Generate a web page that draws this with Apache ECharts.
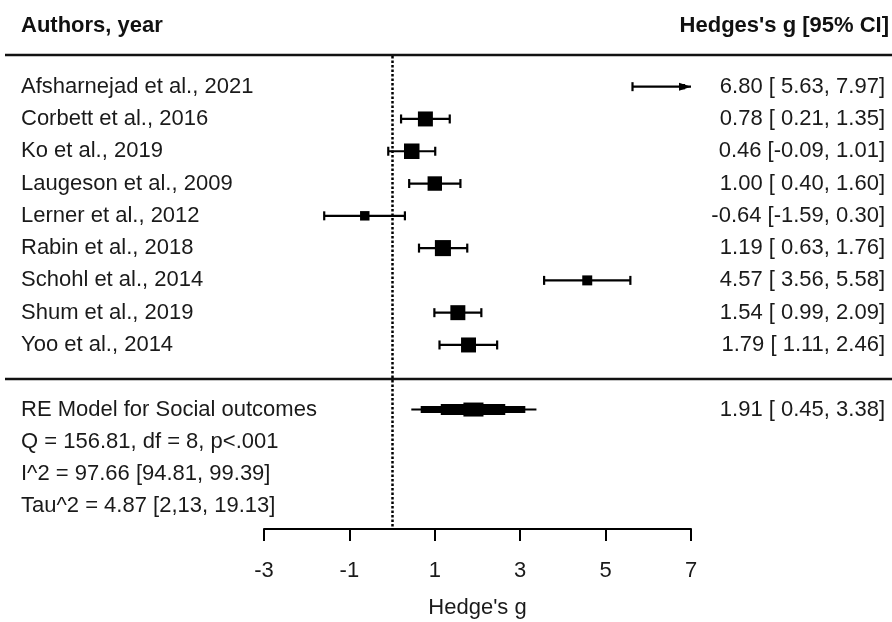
<!DOCTYPE html>
<html><head><meta charset="utf-8">
<script src="https://cdn.jsdelivr.net/npm/echarts@6/dist/echarts.min.js"></script>
<style>html,body{margin:0;padding:0;background:#fff}#c{width:892px;height:622px}</style>
</head><body><div id="c"></div>
<script>
// ---- data ----
const studies = ['Afsharnejad et al., 2021','Corbett et al., 2016','Ko et al., 2019','Laugeson et al., 2009','Lerner et al., 2012','Rabin et al., 2018','Schohl et al., 2014','Shum et al., 2019','Yoo et al., 2014'];
const estimates = [6.80, 0.78, 0.46, 1.00, -0.64, 1.19, 4.57, 1.54, 1.79];
const ciLower = [5.63, 0.21, -0.09, 0.40, -1.59, 0.63, 3.56, 0.99, 1.11];
const ciUpper = [7.97, 1.35, 1.01, 1.60, 0.30, 1.76, 5.58, 2.09, 2.46];
const weights = [10.68, 11.22, 11.25, 11.19, 10.91, 11.28, 10.94, 11.22, 11.22];
const summaryLabel = 'RE Model for Social outcomes';
const summaryEstimate = 1.91, summaryLower = 0.45, summaryUpper = 3.38;
const summaryBands = [[0.45, 3.38], [0.67, 3.12], [1.14, 2.65], [1.67, 2.14]];
const statsLines = ['Q = 156.81, df = 8, p<.001', 'I^2 = 97.66 [94.81, 99.39]', 'Tau^2 = 4.87 [2,13, 19.13]'];
const xTicks = [-3, -1, 1, 3, 5, 7];
const headerLeft = 'Authors, year';
const headerRight = "Hedges's g [95% CI]";
const xTitle = "Hedge's g";

// ---- build ----
const FONT = "'Liberation Sans', Arial, sans-serif";
const FS = 22;
const XMIN = xTicks[0], XMAX = xTicks[xTicks.length - 1];
const summaryRow = studies.length + 1;
const statRows = statsLines.map((_, i) => summaryRow + 1 + i);
const leftLabels = {};
studies.forEach((s, i) => leftLabels[i] = s);
leftLabels[summaryRow] = summaryLabel;
statsLines.forEach((s, i) => leftLabels[statRows[i]] = s);
const fmt = v => v.toFixed(2);
const ciText = (e, l, h) => fmt(e) + ' [' + (l < 0 ? '' : ' ') + fmt(l) + ', ' + fmt(h) + ']';
const rightLabels = {};
studies.forEach((s, i) => rightLabels[i] = ciText(estimates[i], ciLower[i], ciUpper[i]));
rightLabels[summaryRow] = ciText(summaryEstimate, summaryLower, summaryUpper);
const leftRows = Object.keys(leftLabels).map(Number);
const rightRows = Object.keys(rightLabels).map(Number);

const wMin = Math.min(...weights), wMax = Math.max(...weights);
const boxSize = w => 10.7 * (0.5 + (w - wMin) / (wMax - wMin));

const studyData = studies.map((s, i) => [estimates[i], ciLower[i], ciUpper[i], i, weights[i]]);
const bandData = summaryBands.map((b, i) => [b[0], b[1], summaryRow, i]);
const bandHeights = [2, 7, 11, 14];

function renderStudy(params, api) {
  const est = api.value(0), lo = api.value(1), hi = api.value(2), row = api.value(3), w = api.value(4);
  const p0 = api.coord([Math.max(lo, XMIN), row]);
  const p1 = api.coord([Math.min(hi, XMAX), row]);
  const pe = api.coord([est, row]);
  const y = p0[1];
  const st = { stroke: '#000', lineWidth: 2.2 };
  const ch = [];
  ch.push({ type: 'line', shape: { x1: p0[0], y1: y, x2: p1[0], y2: y }, style: st });
  if (lo >= XMIN) ch.push({ type: 'line', shape: { x1: p0[0], y1: y - 4.5, x2: p0[0], y2: y + 4.5 }, style: st });
  if (hi <= XMAX) ch.push({ type: 'line', shape: { x1: p1[0], y1: y - 4.5, x2: p1[0], y2: y + 4.5 }, style: st });
  else ch.push({ type: 'polygon', shape: { points: [[p1[0], y], [p1[0] - 12, y - 4], [p1[0] - 12, y + 4]] }, style: { fill: '#000' } });
  const s = boxSize(w);
  ch.push({ type: 'rect', shape: { x: pe[0] - s / 2, y: y - s / 2, width: s, height: s }, style: { fill: '#000' } });
  return { type: 'group', children: ch };
}
function renderBand(params, api) {
  const a = api.coord([api.value(0), api.value(2)]);
  const b = api.coord([api.value(1), api.value(2)]);
  const h = bandHeights[api.value(3)];
  return { type: 'rect', shape: { x: a[0], y: a[1] - h / 2, width: b[0] - a[0], height: h }, style: { fill: '#000' } };
}

const chart = echarts.init(document.getElementById('c'), null, { renderer: 'canvas' });
chart.setOption({
  animation: false,
  backgroundColor: '#fff',
  grid: { left: 264, width: 427, top: 56, height: 473, containLabel: false, outerBoundsMode: 'none' },
  xAxis: {
    type: 'value', min: XMIN, max: XMAX, position: 'bottom',
    splitLine: { show: false },
    axisLine: { onZero: false, lineStyle: { color: '#000', width: 2 } },
    axisTick: { customValues: xTicks, length: 12, lineStyle: { color: '#000', width: 2 } },
    axisLabel: { customValues: xTicks, margin: 31, color: '#1a1a1a', fontFamily: FONT, fontSize: FS },
    name: xTitle, nameLocation: 'middle', nameGap: 68,
    nameTextStyle: { color: '#1a1a1a', fontFamily: FONT, fontSize: FS }
  },
  yAxis: [{
    type: 'value', min: -0.95, max: 13.7, inverse: true, position: 'left',
    splitLine: { show: false }, axisLine: { show: false }, axisTick: { show: false },
    axisLabel: { customValues: leftRows, formatter: v => leftLabels[v] || '', align: 'left', margin: 243,
      color: '#1a1a1a', fontFamily: FONT, fontSize: FS, padding: [14, 0, 0, 0] }
  }, {
    type: 'value', min: -0.95, max: 13.7, inverse: true, position: 'right',
    splitLine: { show: false }, axisLine: { show: false }, axisTick: { show: false },
    axisLabel: { customValues: rightRows, formatter: v => rightLabels[v] || '', align: 'right', margin: 194,
      color: '#1a1a1a', fontFamily: FONT, fontSize: FS, padding: [14, 0, 0, 0] }
  }],
  graphic: [
    { type: 'text', x: 21, y: 26, style: { text: headerLeft, fill: '#111', font: "bold " + FS + "px " + FONT, align: 'left', verticalAlign: 'middle' } },
    { type: 'text', x: 889, y: 26, style: { text: headerRight, fill: '#111', font: "bold " + FS + "px " + FONT, align: 'right', verticalAlign: 'middle' } },
    { type: 'line', shape: { x1: 5, y1: 55, x2: 892, y2: 55 }, style: { stroke: '#111', lineWidth: 2.5 } },
    { type: 'line', shape: { x1: 5, y1: 379, x2: 892, y2: 379 }, style: { stroke: '#111', lineWidth: 2.5 } }
  ],
  series: [{
    type: 'custom', renderItem: renderStudy, data: studyData, clip: false,
    markLine: { silent: true, symbol: 'none', label: { show: false },
      lineStyle: { color: '#000', width: 2.5, type: [2.5, 2] }, data: [{ xAxis: 0 }] }
  }, {
    type: 'custom', renderItem: renderBand, data: bandData, clip: false
  }]
});
</script>
</body></html>
